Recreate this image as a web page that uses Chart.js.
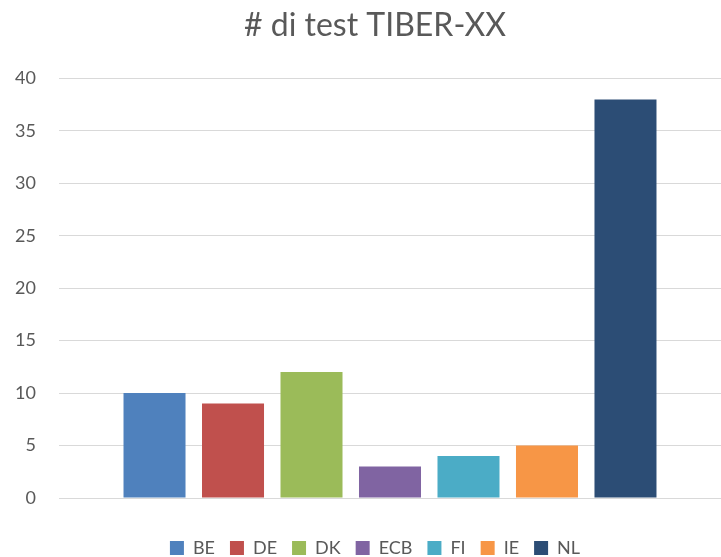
<!DOCTYPE html>
<html>
<head>
<meta charset="utf-8">
<script src="https://cdn.jsdelivr.net/npm/chart.js@4/dist/chart.umd.min.js"></script>
<style>
html,body{margin:0;padding:0;background:#fff;}
#wrap{width:721px;height:557px;position:relative;}
</style>
</head>
<body>
<div id="wrap"><canvas id="c" width="721" height="557"></canvas></div>
<script>
const categories = ['BE', 'DE', 'DK', 'ECB', 'FI', 'IE', 'NL'];
const values = [10, 9, 12, 3, 4, 5, 38];
const colors = ['#4F81BD', '#C0504D', '#9BBB59', '#8064A2', '#4BACC6', '#F79646', '#2C4D75'];
const yTicks = [0, 5, 10, 15, 20, 25, 30, 35, 40];
const titleText = '# di test TIBER-XX';

const FONT = 'Lato, "Open Sans", sans-serif';
const datasets = categories.map((c, i) => ({
  label: c,
  data: [values[i]],
  backgroundColor: colors[i],
  borderWidth: 0,
  categoryPercentage: 0.83,
  barPercentage: 0.79
}));

new Chart(document.getElementById('c'), {
  type: 'bar',
  data: { labels: [''], datasets },
  options: {
    responsive: false,
    animation: false,
    layout: { padding: { left: 29, right: 0, top: 0, bottom: 0 } },
    plugins: {
      title: {
        display: true,
        text: titleText,
        color: '#595959',
        font: { family: FONT, size: 32, weight: 'normal' },
        padding: { top: 6, bottom: 34 }
      },
      legend: {
        position: 'bottom',
        maxHeight: 33,
        labels: {
          color: '#595959',
          font: { family: FONT, size: 18 },
          boxWidth: 14,
          boxHeight: 14,
          padding: 15
        }
      },
      tooltip: { enabled: false }
    },
    scales: {
      x: {
        afterFit: (s) => { s.height = 26; },
        grid: { display: false },
        border: { display: false },
        ticks: { display: false }
      },
      y: {
        min: 0,
        max: 40,
        afterBuildTicks: (s) => { s.ticks = yTicks.map(v => ({ value: v })); },
        afterFit: (s) => {
          s.width = 30;
          s._computeLabelArea = () => ({ top: 0, left: 0, bottom: s.chart.height, right: s.right });
        },
        grid: { color: '#D9D9D9', lineWidth: 1, drawTicks: false },
        border: { display: false },
        ticks: {
          color: '#595959',
          font: { family: FONT, size: 18 },
          padding: 23
        }
      }
    }
  }
});
</script>
</body>
</html>
